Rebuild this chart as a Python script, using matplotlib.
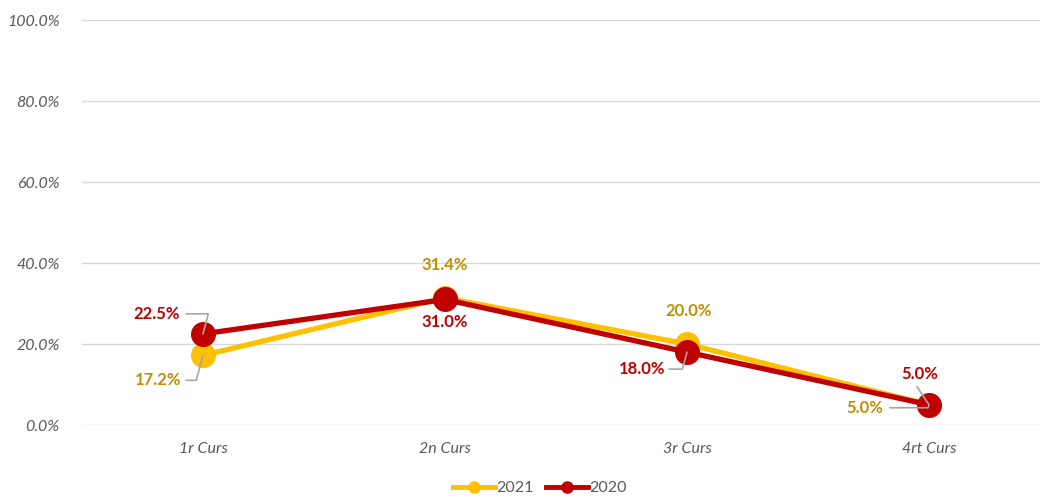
import matplotlib
matplotlib.use("Agg")
import matplotlib.pyplot as plt
from matplotlib.lines import Line2D
from matplotlib.ticker import FuncFormatter

plt.rcParams['font.family'] = ['Lato', 'DejaVu Sans']

categories = ["1r Curs", "2n Curs", "3r Curs", "4rt Curs"]
series_names = ["2021", "2020"]
values_2021 = [17.2, 31.4, 20.0, 5.0]
values_2020 = [22.5, 31.0, 18.0, 5.0]
yticks = [0, 20, 40, 60, 80, 100]

c2021 = "#FFC000"
c2020 = "#C00000"
lab2021 = "#BF9000"
lab2020 = "#C00000"
gray = "#595959"
lead = "#A6A6A6"

W, H = 1040, 498
fig = plt.figure(figsize=(W / 100, H / 100), dpi=100)
ax = fig.add_axes([82 / W, (498 - 425) / H, 968 / W, 405 / H])

x = list(range(len(categories)))
ax.plot(x, values_2021, color=c2021, lw=3.8, marker="o", ms=17, zorder=3, solid_capstyle="round")
ax.plot(x, values_2020, color=c2020, lw=3.8, marker="o", ms=17, zorder=4, solid_capstyle="round")

ax.set_xlim(-0.5, 3.5)
ax.set_ylim(0, 100)
ax.set_yticks(yticks)
ax.yaxis.set_major_formatter(FuncFormatter(lambda v, p: f"{v:.1f}%"))
ax.set_xticks(x)
ax.set_xticklabels(categories)
ax.grid(axis="y", color="#D9D9D9", lw=1)
ax.set_axisbelow(True)
for s in ax.spines.values():
    s.set_visible(False)
ax.tick_params(length=0, labelsize=11.5, labelcolor=gray)
ax.tick_params(axis="y", pad=16)
ax.tick_params(axis="x", pad=12)
for t in ax.get_xticklabels() + ax.get_yticklabels():
    t.set_fontstyle("italic")

# labels: (series values, index, text offset px, leader start offset px or None, color)
labels = [
    (values_2020, 0, (-46, 20), (-17, 20), lab2020),
    (values_2021, 0, (-45, -25), (-17, -25), lab2021),
    (values_2021, 1, (0, 33), None, lab2021),
    (values_2020, 1, (0, -23), None, lab2020),
    (values_2021, 2, (2, 33), None, lab2021),
    (values_2020, 2, (-45, -17), (-18, -17), lab2020),
    (values_2020, 3, (-9, 31), (-12, 18), lab2020),
    (values_2021, 3, (-64, -3), (-39, -3), lab2021),
]
for vals, i, off, lstart, col in labels:
    v = vals[i]
    if lstart is not None:
        ax.annotate("", xy=(i, v), xytext=lstart, textcoords="offset pixels",
                    arrowprops=dict(arrowstyle="-", color=lead, lw=1.2,
                                    shrinkA=0, shrinkB=0,
                                    connectionstyle="angle,angleA=0,angleB=75,rad=0" if lstart[0] < -15 else "arc3"),
                    zorder=5)
    ax.annotate(f"{v:.1f}%", xy=(i, v), xytext=off, textcoords="offset pixels",
                ha="center", va="center", fontsize=12, fontweight="bold", color=col, zorder=6)

handles = [Line2D([], [], color=c2021, lw=3.5, marker="o", ms=8),
           Line2D([], [], color=c2020, lw=3.5, marker="o", ms=8)]
fig.legend(handles, series_names, loc="center", bbox_to_anchor=(540 / W, 1 - 488 / H),
           ncol=2, frameon=False, fontsize=11.5, labelcolor=gray, handlelength=2.6,
           handletextpad=0.1, columnspacing=0.8)

fig.savefig("out.png", dpi=100)
